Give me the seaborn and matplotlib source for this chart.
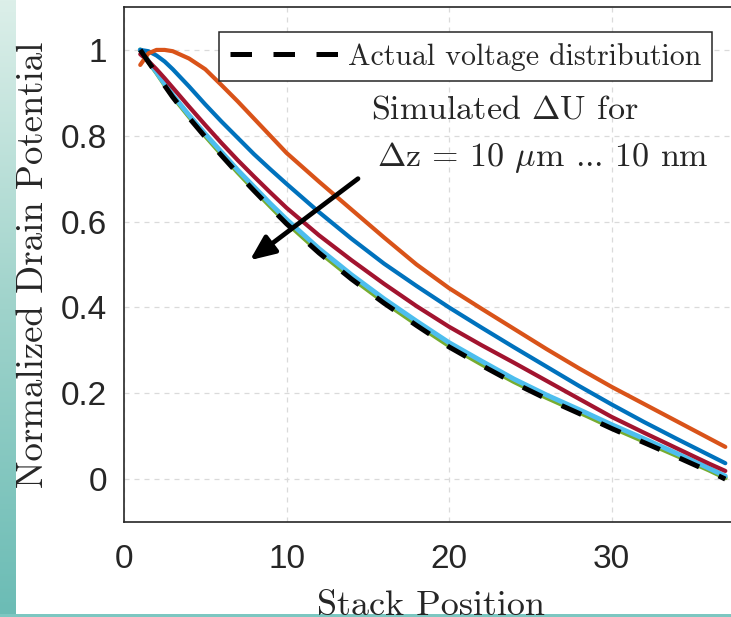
import numpy as np
import matplotlib
matplotlib.use('Agg')
import matplotlib.pyplot as plt
import seaborn as sns
from matplotlib.colors import LinearSegmentedColormap

# ---------------- data ----------------
positions = [1, 1.5, 2, 2.5, 3, 4, 5, 6, 7, 8, 9, 10, 12, 14, 16, 18, 20, 22, 24, 26, 28, 30, 32, 34, 36, 37]
actual    = [1.0, 0.972, 0.945, 0.917, 0.89, 0.842, 0.797, 0.754, 0.712, 0.672, 0.633, 0.595, 0.527, 0.466, 0.41, 0.358, 0.308, 0.265, 0.224, 0.187, 0.153, 0.118, 0.085, 0.052, 0.018, 0.0]
sim_green = [1.0, 0.973, 0.947, 0.919, 0.892, 0.845, 0.8, 0.757, 0.715, 0.675, 0.636, 0.598, 0.53, 0.469, 0.413, 0.361, 0.311, 0.268, 0.227, 0.19, 0.156, 0.121, 0.088, 0.055, 0.021, 0.003]
sim_light = [1.0, 0.974, 0.948, 0.921, 0.895, 0.848, 0.804, 0.762, 0.72, 0.681, 0.642, 0.605, 0.537, 0.476, 0.42, 0.368, 0.318, 0.275, 0.233, 0.196, 0.162, 0.127, 0.094, 0.06, 0.025, 0.007]
sim_red   = [0.99, 0.974, 0.955, 0.934, 0.912, 0.868, 0.825, 0.783, 0.743, 0.705, 0.668, 0.632, 0.568, 0.51, 0.455, 0.403, 0.355, 0.312, 0.271, 0.229, 0.187, 0.145, 0.108, 0.072, 0.036, 0.019]
sim_blue  = [1.0, 0.997, 0.987, 0.973, 0.955, 0.915, 0.873, 0.833, 0.795, 0.757, 0.722, 0.688, 0.622, 0.56, 0.502, 0.45, 0.40, 0.353, 0.307, 0.262, 0.217, 0.174, 0.133, 0.094, 0.056, 0.037]
sim_orng  = [0.965, 0.992, 1.0, 1.0, 0.997, 0.98, 0.955, 0.918, 0.88, 0.84, 0.80, 0.76, 0.693, 0.628, 0.563, 0.5, 0.445, 0.397, 0.35, 0.303, 0.258, 0.215, 0.175, 0.135, 0.095, 0.075]

x_ticks = [0, 10, 20, 30]
x_tick_labels = ['0', '10', '20', '30']
y_ticks = [0, 0.2, 0.4, 0.6, 0.8, 1.0]
y_tick_labels = ['0', '0.2', '0.4', '0.6', '0.8', '1']

legend_label = 'Actual voltage distribution'
note_line1 = r'Simulated $\Delta$U for'
note_line2 = r'$\Delta$z = 10 $\mu$m ... 10 nm'
x_label = 'Stack Position'
y_label = 'Normalized Drain Potential'

# ---------------- style ----------------
sns.set_style('white')
plt.rcParams['mathtext.fontset'] = 'cm'
SERIF = 'cmr10'
SANS = 'Liberation Sans'

W, H = 731, 617
fig = plt.figure(figsize=(W / 100, H / 100), dpi=100)
fig.patch.set_facecolor('white')

# slide background strips (teal gradient on the left, thin line at bottom)
bg = fig.add_axes([0, 0, 16 / W, 1])
grad = np.linspace(0, 1, 256).reshape(-1, 1)
cm_teal = LinearSegmentedColormap.from_list('teal', ['#dcefe9', '#9fd3cb', '#6bbcb5'])
bg.imshow(grad, aspect='auto', cmap=cm_teal, extent=[0, 1, 0, 1], origin='upper')
bg.axis('off')
bstrip = fig.add_axes([0, 0, 1, 3 / H])
bstrip.set_facecolor('#7cc7c1')
bstrip.set_xticks([]); bstrip.set_yticks([])
for s in bstrip.spines.values():
    s.set_visible(False)

ax = fig.add_axes([124 / W, 95 / H, 607 / W, 515 / H])
ax.set_facecolor('white')

lw = 3.0
sns.lineplot(x=positions, y=sim_green, ax=ax, color='#77AC30', lw=lw + 0.5)
sns.lineplot(x=positions, y=sim_light, ax=ax, color='#4DBEEE', lw=lw + 0.5)
sns.lineplot(x=positions, y=sim_red, ax=ax, color='#A2142F', lw=lw)
sns.lineplot(x=positions, y=sim_blue, ax=ax, color='#0072BD', lw=lw)
sns.lineplot(x=positions, y=sim_orng, ax=ax, color='#D95319', lw=lw)
sns.lineplot(x=positions, y=actual, ax=ax, color='black', lw=3.6,
             linestyle=(0, (4.3, 4.3)), label=legend_label)

ax.set_xlim(0, 37.35)
ax.set_ylim(-0.1, 1.1)
ax.set_xticks(x_ticks)
ax.set_xticklabels(x_tick_labels, fontfamily=SANS, fontsize=24, color='#262626')
ax.set_yticks(y_ticks)
ax.set_yticklabels(y_tick_labels, fontfamily=SANS, fontsize=24, color='#262626')
ax.tick_params(axis='both', direction='in', length=6, width=1.0, color='#262626')
ax.tick_params(axis='x', pad=16)
ax.tick_params(axis='y', pad=12)
ax.set_xlabel('')
ax.set_ylabel('')

ax.grid(True, linestyle=(0, (4, 4)), color='#dadada', lw=0.9)
ax.set_axisbelow(True)
for side in ['left', 'bottom', 'top']:
    ax.spines[side].set_visible(True)
    ax.spines[side].set_color('#262626')
    ax.spines[side].set_linewidth(1.2)
ax.spines['right'].set_visible(False)

leg = ax.legend(loc='upper right', bbox_to_anchor=(0.968, 0.951), borderaxespad=0,
                fancybox=False, framealpha=1, edgecolor='#262626', handlelength=3.8,
                handletextpad=0.15, borderpad=0.35, prop={'family': SERIF, 'size': 21.5})
leg.get_frame().set_linewidth(1.1)

ax.text(23.45, 0.841, note_line1, fontfamily=SERIF, fontsize=24.5, ha='center', va='baseline')
ax.text(25.8, 0.73, note_line2, fontfamily=SERIF, fontsize=24.5, ha='center', va='baseline')

ax.annotate('', xy=(7.75, 0.51), xytext=(14.4, 0.70),
            arrowprops=dict(arrowstyle='-|>,head_length=1.5,head_width=0.65',
                            color='black', lw=3.4, shrinkA=0, shrinkB=0))

fig.text(33 / W, 1 - 265 / H, y_label, rotation=90, ha='center', va='center',
         fontfamily=SERIF, fontsize=26.5)
fig.text(431 / W, 1 - 590 / H, x_label, ha='center', va='top',
         fontfamily=SERIF, fontsize=26)

fig.savefig('out.png', dpi=100, facecolor='white')
